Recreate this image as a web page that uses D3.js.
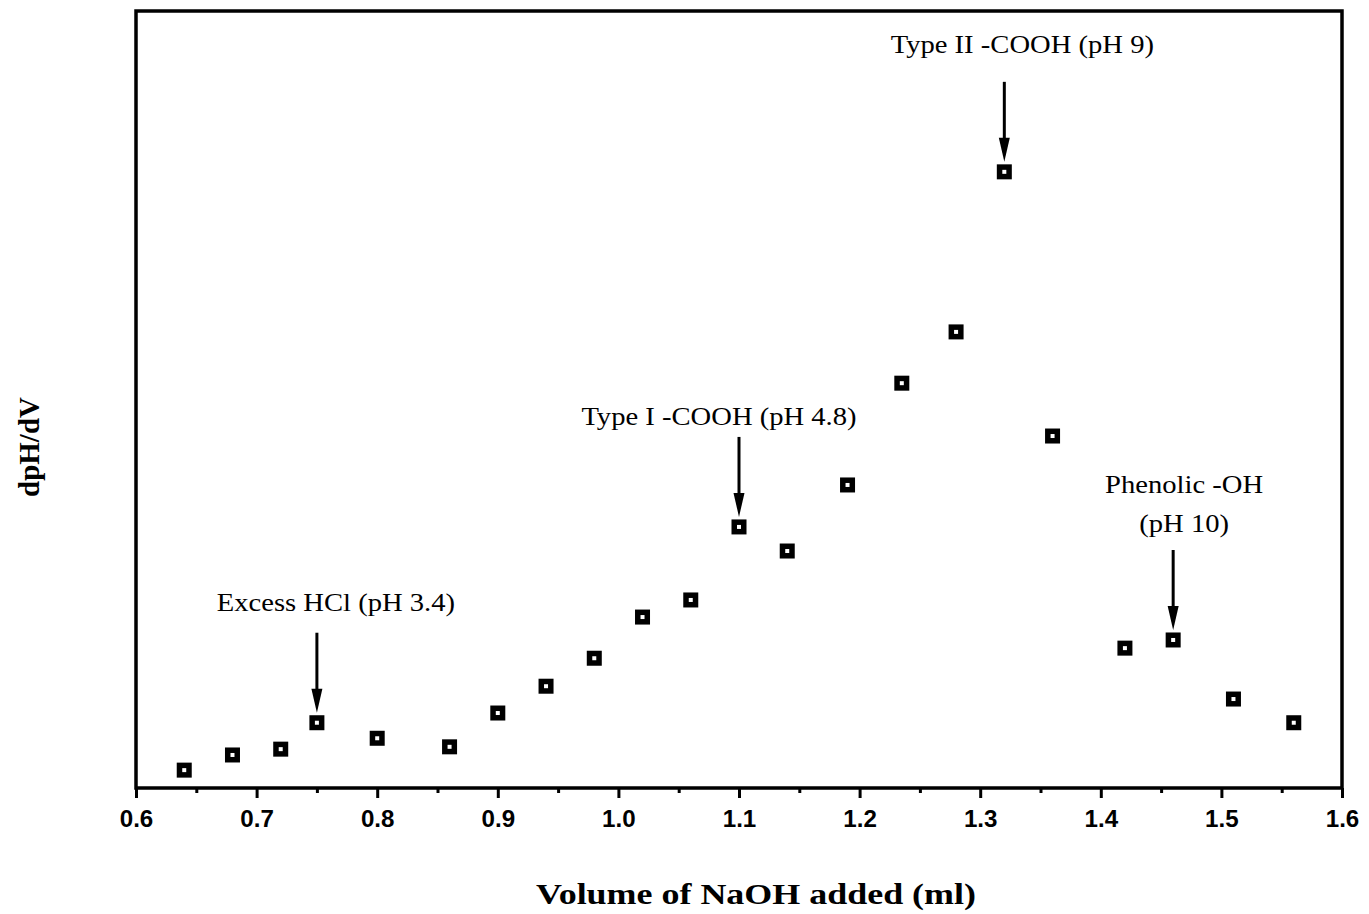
<!DOCTYPE html>
<html>
<head>
<meta charset="utf-8">
<script src="https://cdn.jsdelivr.net/npm/d3@7"></script>
<style>
  html, body { margin: 0; padding: 0; background: #fff; }
  svg { display: block; }
</style>
</head>
<body>
<svg id="chart" width="1369" height="914"></svg>
<script>
// Titration derivative: volume of NaOH added (ml) vs dpH/dV (arbitrary units)
const volumeNaOH = [0.64, 0.68, 0.72, 0.75, 0.80, 0.86, 0.90, 0.94, 0.98, 1.02, 1.06,
                    1.10, 1.14, 1.19, 1.235, 1.28, 1.32, 1.36, 1.42, 1.46, 1.51, 1.56];
const dpHdV = [2.3, 4.25, 5.0, 8.4, 6.4, 5.3, 9.65, 13.1, 16.7, 22.0, 24.2,
               33.6, 30.5, 39.0, 52.1, 58.7, 79.3, 45.3, 18.0, 19.05, 11.45, 8.4];

const xTickValues = [0.6, 0.7, 0.8, 0.9, 1.0, 1.1, 1.2, 1.3, 1.4, 1.5, 1.6];
const xMinorTickValues = [0.65, 0.75, 0.85, 0.95, 1.05, 1.15, 1.25, 1.35, 1.45, 1.55];

// Equivalence-point annotations and the volume each arrow points to
const annotationLines = [
  ["Excess HCl (pH 3.4)"],
  ["Type I -COOH (pH 4.8)"],
  ["Type II -COOH (pH 9)"],
  ["Phenolic -OH", "(pH 10)"]
];
const annotationVolume = [0.75, 1.10, 1.32, 1.46];

const xTitle = "Volume of NaOH added (ml)";
const yTitle = "dpH/dV";

// ---- layout ----
const W = 1369, H = 914;
const frame = { left: 136, right: 1342, top: 11, bottom: 788 };
// label placement relative to the marked point: [dx, dy of last line]
const labelOffset = [[19, -112], [-20, -102], [18, -119], [11, -108]];
const serifFont = "'Liberation Serif', 'Times New Roman', serif";
const sansFont = "'Liberation Sans', Arial, Helvetica, sans-serif";
const textStretch = 1.1;
const tickStretch = 1.05;

const svg = d3.select("#chart");

const x = d3.scaleLinear().domain([0.6, 1.6]).range([frame.left, frame.right]);
const y = d3.scaleLinear().domain([0, 100]).range([frame.bottom, frame.top]);

// minor ticks
svg.append("g")
  .attr("transform", `translate(0,${frame.bottom})`)
  .call(d3.axisBottom(x).tickValues(xMinorTickValues).tickSize(5).tickSizeOuter(0).tickFormat(""))
  .call(g => g.select(".domain").remove())
  .call(g => g.selectAll("line").attr("stroke", "#000").attr("stroke-width", 3));

// major ticks with labels
svg.append("g")
  .attr("transform", `translate(0,${frame.bottom})`)
  .call(d3.axisBottom(x).tickValues(xTickValues).tickSize(10).tickSizeOuter(0)
          .tickPadding(13).tickFormat(d3.format(".1f")))
  .call(g => g.select(".domain").remove())
  .call(g => g.selectAll("line").attr("stroke", "#000").attr("stroke-width", 3))
  .call(g => g.selectAll("text")
      .attr("fill", "#000")
      .style("font-family", sansFont)
      .style("font-size", "23px")
      .style("font-weight", "bold")
      .each(function () {
        const n = this.getComputedTextLength();
        d3.select(this).attr("textLength", n * tickStretch).attr("lengthAdjust", "spacingAndGlyphs");
      }));

// plot frame
svg.append("rect")
  .attr("x", frame.left).attr("y", frame.top)
  .attr("width", frame.right - frame.left)
  .attr("height", frame.bottom - frame.top)
  .attr("fill", "none")
  .attr("stroke", "#000")
  .attr("stroke-width", 3.5);

// data markers: filled squares with a small open centre
const pts = volumeNaOH.map((v, i) => ({ v, d: dpHdV[i] }));
const marker = svg.append("g").selectAll("g")
  .data(pts).join("g")
  .attr("transform", p => `translate(${x(p.v)},${y(p.d)})`);
marker.append("rect")
  .attr("x", -7.5).attr("y", -7.5).attr("width", 15).attr("height", 15)
  .attr("fill", "#000");
marker.append("rect")
  .attr("x", -2).attr("y", -2).attr("width", 4).attr("height", 4)
  .attr("fill", "#fff");

// annotations with arrows
const ann = svg.append("g");
annotationVolume.forEach((vol, i) => {
  const idx = volumeNaOH.indexOf(vol);
  const px = x(vol), py = y(dpHdV[idx]);
  const tipY = py - 10, topY = py - 90, headLen = 24, headHalf = 5.5;
  ann.append("line")
    .attr("x1", px).attr("x2", px)
    .attr("y1", topY).attr("y2", tipY - headLen + 2)
    .attr("stroke", "#000").attr("stroke-width", 3);
  ann.append("path")
    .attr("d", `M${px},${tipY} L${px - headHalf},${tipY - headLen} L${px + headHalf},${tipY - headLen} Z`)
    .attr("fill", "#000");

  const lines = annotationLines[i];
  const [dx, dy] = labelOffset[i];
  lines.forEach((t, j) => {
    const txt = ann.append("text")
      .attr("x", px + dx)
      .attr("y", py + dy - (lines.length - 1 - j) * 39)
      .attr("text-anchor", "middle")
      .style("font-family", serifFont)
      .style("font-size", "26px")
      .attr("fill", "#000")
      .text(t);
    const natural = txt.node().getComputedTextLength();
    txt.attr("textLength", natural * textStretch).attr("lengthAdjust", "spacingAndGlyphs");
  });
});

// axis titles
svg.append("text")
  .attr("x", 756).attr("y", 904)
  .attr("text-anchor", "middle")
  .style("font-family", serifFont)
  .style("font-size", "30px")
  .style("font-weight", "bold")
  .attr("fill", "#000")
  .attr("textLength", 440)
  .attr("lengthAdjust", "spacingAndGlyphs")
  .text(xTitle);

svg.append("text")
  .attr("transform", "translate(39,447) rotate(-90)")
  .attr("text-anchor", "middle")
  .style("font-family", serifFont)
  .style("font-size", "29px")
  .style("font-weight", "bold")
  .attr("fill", "#000")
  .text(yTitle);
</script>
</body>
</html>
